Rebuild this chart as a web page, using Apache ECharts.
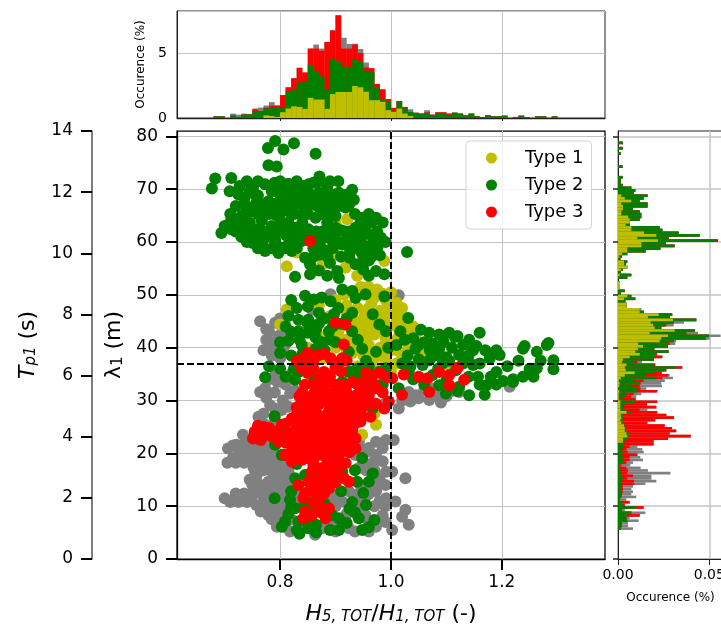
<!DOCTYPE html>
<html>
<head>
<meta charset="utf-8">
<script src="https://cdn.jsdelivr.net/npm/echarts@6/dist/echarts.min.js"></script>
<style>
html, body { margin: 0; padding: 0; background: #fff; }
#chart { width: 721px; height: 630px; }
</style>
</head>
<body>
<div id="chart"></div>
<script>
// ---------------- data ----------------
// scatter points [H5/H1, lambda1]
var otherPts = [[0.809,40.5],[0.803,39.2],[0.791,34.8],[0.821,35.1],[0.764,31.6],[0.773,32.3],[0.818,31.3],[0.827,31.9],[0.782,29.1],[0.803,28.2],[0.815,28.8],[0.761,26.9],[0.773,25.4],[0.791,26.0],[0.733,23.5],[0.739,22.5],[0.721,21.6],[0.706,20.9],[0.715,19.1],[0.736,20.3],[0.739,18.7],[0.757,20.6],[0.770,19.1],[0.785,20.0],[0.754,21.6],[0.779,22.2],[0.752,17.3],[0.780,17.5],[0.800,18.5],[0.770,16.8],[0.745,15.0],[0.757,15.6],[0.764,13.4],[0.779,14.6],[0.794,15.3],[0.809,15.6],[0.791,13.4],[0.803,12.8],[0.700,11.5],[0.718,11.4],[0.733,11.6],[0.748,11.4],[0.770,12.1],[0.785,11.2],[0.757,10.2],[0.765,9.0],[0.790,10.2],[0.810,10.8],[0.779,8.3],[0.797,9.0],[0.794,6.1],[0.818,5.2],[0.863,4.6],[0.876,5.8],[0.888,6.5],[0.924,5.8],[0.973,6.1],[0.985,8.3],[0.954,8.3],[0.894,11.5],[0.912,10.9],[0.924,12.8],[0.939,11.5],[0.954,11.8],[0.973,12.8],[0.991,11.5],[0.979,10.9],[0.850,12.0],[0.865,13.0],[0.942,17.2],[0.960,17.8],[0.973,19.7],[0.991,16.5],[0.979,15.3],[0.942,22.2],[0.973,22.2],[0.991,22.5],[0.936,19.7],[0.957,20.3],[0.764,45.0],[0.780,43.1],[0.791,44.7],[0.797,42.2],[0.785,41.0],[0.805,43.5],[0.770,39.5],[0.800,38.0],[0.891,50.1],[0.857,47.2],[1.014,49.9],[1.014,28.5],[1.032,31.6],[1.050,30.4],[1.069,30.1],[1.081,31.0],[1.100,30.8],[1.123,31.6],[1.214,32.6],[1.005,22.5],[1.002,16.5],[1.026,15.3],[1.008,10.9],[1.026,9.3],[1.020,8.0],[1.032,6.5],[1.002,5.5],[1.045,31.0],[1.060,32.0],[1.020,30.0],[0.990,29.5],[0.960,31.5],[0.980,33.0],
  [0.715,21.5],[0.730,21.5],[0.745,21.5],[0.760,21.5],[0.775,21.5],[0.790,21.5],[0.725,19.8],[0.745,19.8],[0.760,19.8],[0.775,19.8],[0.790,19.8],[0.805,19.8],[0.705,18.2],[0.720,18.2],[0.735,18.2],[0.750,18.2],[0.765,18.2],[0.780,18.2],[0.795,18.2],[0.810,18.2],[0.755,16.5],[0.785,16.5],[0.800,16.5],[0.815,16.5],[0.750,14.0],[0.765,14.0],[0.780,14.0],[0.795,14.0],[0.810,14.0],[0.825,14.0],[0.720,12.4],[0.735,12.4],[0.750,12.4],[0.765,12.4],[0.780,12.4],[0.795,12.4],[0.810,12.4],[0.825,12.4],[0.710,10.8],[0.725,10.8],[0.740,10.8],[0.770,10.8],[0.800,10.8],[0.815,10.8],[0.830,10.8],[0.780,9.3],[0.800,9.3],[0.815,9.3],[0.785,7.5],[0.800,7.5],[0.820,7.5],[0.810,6.0],[0.835,6.0],
  [0.945,21.0],[0.960,21.0],[0.985,21.0],[0.950,18.5],[0.970,18.5],[0.985,18.5],[0.955,16.8],[0.970,16.8],[0.945,14.0],[0.960,14.0],[0.975,14.0],[0.990,14.0],[0.905,12.3],[0.940,12.3],[0.960,12.3],[0.900,10.0],[0.925,10.0],[0.940,10.0],[0.970,10.0],[0.990,10.0],[0.920,8.5],[0.940,8.5],[0.895,7.0],[0.915,7.0],[0.960,7.0],[0.990,7.0],[0.900,5.2],[0.935,5.2],[0.960,5.2],
  [0.775,30.5],[0.790,31.5],[0.805,30.0],[0.790,28.5],[0.770,27.5],[0.810,33.0],[0.795,33.5],[0.780,34.0],[0.775,41.5],[0.790,40.0],[0.775,43.5],[0.800,45.5],[0.785,38.5],[0.810,41.8],[1.035,29.8],[1.090,29.6],[1.110,31.8],[1.075,32.2]];

var type1Pts = [[0.888,68.3],[0.921,64.3],[0.761,64.0],[0.812,55.4],[0.988,56.4],[0.876,55.7],[0.900,57.6],[0.918,55.1],[0.939,53.6],[0.954,51.3],[0.940,62.5],[0.910,60.5],[0.870,61.5],[0.850,66.0],[0.970,59.0],[0.800,67.5],[0.830,58.0],[0.960,60.8],[0.900,63.5],
  [0.93,50.5],[0.95,50.0],[0.97,49.5],[0.99,49.0],[1.01,48.5],[0.92,48.0],[0.94,47.5],[0.96,47.5],[0.98,47.0],[1.00,46.5],[1.02,46.0],[0.93,46.0],[0.95,45.5],[0.97,45.0],[0.99,44.5],[1.01,44.0],[1.03,43.5],[0.91,44.0],[0.93,43.5],[0.95,43.0],[0.97,42.5],[0.99,42.0],[1.01,41.5],[1.03,41.0],[0.92,41.5],[0.94,41.0],[0.96,40.5],[0.98,40.0],[1.00,39.5],[1.02,39.0],[0.90,40.0],[0.93,39.0],[0.95,38.5],[0.97,38.0],[0.99,37.5],[1.01,37.0],[0.88,42.0],[0.86,44.0],[0.89,46.0],[0.87,48.0],[0.90,49.0],[0.96,51.5],[1.00,50.5],[1.04,42.5],[1.05,40.5],[1.06,39.0],[0.94,36.5],[0.97,36.0],[1.00,35.5],[0.91,37.5],[0.85,40.0],[0.83,42.0],[0.88,38.0],[0.996,36.7],[1.011,39.5],[1.032,40.5],[1.105,36.7],[0.812,47.2],[0.800,44.4],[0.973,25.4],[0.948,23.5],[0.97,27.5],[0.99,38.5],[1.015,42.5],[0.985,45.5],[1.005,47.5],[0.965,48.5],
  [0.915,50.0],[0.945,51.5],[0.975,51.0],[0.985,50.2],[1.020,47.5],[1.025,44.8],[1.040,44.0],[1.045,41.5],[0.905,42.5],[0.920,39.5],[0.960,39.0],[0.980,38.5],[1.020,38.0],[0.960,44.0],[0.980,43.5],[0.940,44.5],[0.920,46.8],[0.955,46.5],[0.975,46.2],[0.995,47.8],[1.010,45.5],[0.990,40.8],[0.955,41.8],[0.935,40.2]];

var type2Pts = [[0.791,79.1],[0.778,77.8],[0.806,77.5],[0.825,78.7],[0.864,76.7],[0.779,74.5],[0.794,74.3],[0.871,72.4],[0.683,72.0],[0.677,70.1],[0.712,72.1],[0.727,70.6],[0.709,69.6],[0.736,68.3],[0.751,70.2],[0.773,70.9],[0.785,69.6],[0.803,69.9],[0.824,70.2],[0.842,70.6],[0.851,70.9],[0.870,69.3],[0.906,69.3],[0.930,69.9],[0.933,68.0],[0.912,68.3],[0.888,67.7],[0.757,67.4],[0.779,67.7],[0.803,68.0],[0.827,68.3],[0.851,67.4],[0.870,66.5],[0.906,66.8],[0.918,66.5],[0.900,64.9],[0.948,64.6],[0.973,64.6],[0.730,64.9],[0.748,65.8],[0.767,64.0],[0.791,65.2],[0.815,65.8],[0.839,65.2],[0.864,64.6],[0.882,65.2],[0.733,63.3],[0.694,61.7],[0.712,62.4],[0.736,62.0],[0.761,62.4],[0.785,63.0],[0.803,62.0],[0.827,62.7],[0.851,62.4],[0.876,62.0],[0.900,62.7],[0.918,62.0],[0.936,62.7],[0.957,61.7],[0.982,60.8],[0.751,59.8],[0.767,59.5],[0.791,60.2],[0.815,59.5],[0.839,60.2],[0.870,59.5],[0.894,60.2],[0.912,59.5],[0.936,60.2],[0.960,59.2],[0.976,59.2],[0.773,58.3],[0.797,57.9],[0.821,58.3],[0.845,57.0],[0.870,57.6],[0.924,57.6],[0.854,55.8],[0.936,55.8],[0.954,56.4],[0.854,53.9],[0.827,53.4],[0.885,53.6],[0.903,54.5],[0.906,53.2],[0.960,53.6],[0.973,54.5],[0.988,53.9],
  [0.745,69.5],[0.760,68.8],[0.790,71.2],[0.815,71.0],[0.840,69.0],[0.860,71.2],[0.885,70.5],[0.905,71.5],[0.895,67.0],[0.870,68.2],[0.845,66.0],[0.820,66.5],[0.795,66.8],[0.775,66.0],[0.745,66.5],[0.720,66.8],[0.730,61.0],[0.755,61.0],[0.780,61.2],[0.810,61.3],[0.835,61.0],[0.860,60.7],[0.885,61.0],[0.910,62.2],[0.930,61.5],[0.950,62.8],[0.965,61.2],[0.990,60.0],[0.945,58.3],[0.925,59.0],[0.880,58.5],[0.860,58.8],[0.800,59.0],[0.740,60.0],[0.700,63.0],[0.720,64.0],[0.925,57.0],[0.960,56.5],[0.980,57.5],[0.890,56.0],[0.870,54.6],[0.950,54.8],
  [0.740,71.5],[0.760,71.5],[0.800,71.5],[0.830,71.5],[0.870,71.5],[0.890,71.5],[0.725,69.0],[0.755,69.0],[0.800,69.0],[0.820,69.0],[0.855,69.0],[0.880,69.0],[0.895,69.0],[0.920,69.0],[0.735,67.2],[0.765,67.2],[0.790,67.2],[0.810,67.2],[0.835,67.2],[0.860,67.2],[0.880,67.2],[0.900,67.2],[0.925,67.2],[0.710,65.3],[0.735,65.3],[0.760,65.3],[0.780,65.3],[0.800,65.3],[0.825,65.3],[0.850,65.3],[0.875,65.3],[0.890,65.3],[0.935,65.3],[0.960,65.3],[0.710,63.7],[0.745,63.7],[0.800,63.7],[0.815,63.7],[0.840,63.7],[0.885,63.7],[0.945,63.7],[0.965,63.7],[0.985,63.7],[0.720,62.0],[0.745,62.0],[0.770,62.0],[0.795,62.0],[0.815,62.0],[0.840,62.0],[0.865,62.0],[0.890,62.0],[0.925,62.0],[0.945,62.0],[0.975,62.0],[0.745,60.5],[0.770,60.5],[0.790,60.5],[0.825,60.5],[0.850,60.5],[0.875,60.5],[0.900,60.5],[0.920,60.5],[0.945,60.5],[0.970,60.5],[0.760,58.8],[0.785,58.8],[0.810,58.8],[0.830,58.8],[0.895,58.8],[0.935,58.8],[0.955,58.8],[0.970,58.8],[0.860,57.2],[0.885,57.2],[0.910,57.2],[0.950,57.2],[0.965,57.2],
  [0.891,48.8],[0.912,51.0],[0.930,50.7],[0.936,49.4],[0.954,50.1],[0.988,49.7],[0.861,49.1],[0.870,46.6],[0.833,45.3],[0.851,45.3],[0.897,46.3],[0.930,46.6],[0.967,46.3],[0.815,41.3],[0.833,43.1],[0.864,41.9],[0.888,43.1],[0.930,43.1],[0.979,44.4],[0.991,43.1],[0.839,40.5],[0.864,39.8],[0.924,39.2],[0.948,39.8],[0.973,39.2],[0.924,35.4],[0.912,33.5],[0.900,32.9],[0.991,36.1],[0.773,34.4],[0.827,33.9],[0.839,29.8],[0.836,27.9],[0.967,28.5],[0.850,42.8],[0.870,44.5],[0.900,41.0],[0.910,44.5],[0.940,41.5],[0.955,37.5],[0.995,40.0],[0.820,38.5],[0.800,36.0],[0.850,36.5],[0.880,39.5],[0.900,36.5],[0.940,36.0],[0.965,34.5],[0.985,33.0],[0.810,44.0],[0.830,47.5],[0.850,47.8],[0.780,36.5],[0.815,46.0],
  [0.800,41.0],[0.820,43.0],[0.835,41.5],[0.850,44.5],[0.865,43.5],[0.880,45.5],[0.895,44.0],[0.890,41.5],[0.875,41.0],[0.840,38.8],[0.825,36.0],[0.810,34.5],[0.835,35.5],[0.860,34.5],[0.800,39.0],[0.905,47.5],[0.920,45.5],[0.875,49.5],[0.845,49.8],[0.820,49.0],[0.930,35.5],[0.960,36.5],[0.980,35.5],[0.945,34.5],
  [1.029,58.1],[1.031,45.6],[1.017,43.1],[1.054,43.4],[1.069,42.8],[1.087,42.5],[1.105,42.8],[1.120,42.2],[1.141,41.5],[1.160,42.8],[1.154,40.3],[1.241,40.3],[1.284,40.9],[1.044,39.8],[1.087,39.8],[1.123,38.6],[1.148,39.5],[1.178,38.0],[1.196,38.6],[1.238,39.8],[1.263,39.2],[1.281,40.5],[1.293,37.6],[1.293,35.9],[1.263,36.1],[1.238,34.5],[1.257,34.5],[1.220,33.5],[1.202,33.7],[1.190,35.4],[1.172,32.9],[1.169,31.1],[1.141,31.0],[1.157,34.5],[1.148,36.7],[1.117,35.7],[1.123,32.6],[1.099,31.3],[1.087,32.9],[1.075,34.8],[1.057,36.7],[1.032,35.4],[1.020,37.0],[1.014,32.3],[1.069,37.6],[1.093,37.0],[1.030,38.5],[1.050,40.5],[1.080,38.5],[1.110,40.0],[1.130,37.0],[1.190,39.5],[1.210,36.5],[1.230,37.5],[1.250,36.0],[1.270,37.5],[1.220,34.0],[1.180,34.5],[1.100,33.8],[1.060,33.0],[1.040,34.0],
  [1.010,40.5],[1.025,41.5],[1.040,41.8],[1.060,41.0],[1.075,40.8],[1.095,41.0],[1.115,42.0],[1.130,40.5],[1.070,39.5],[1.100,38.2],[1.035,36.5],[1.050,37.8],[1.085,36.0],[1.105,37.5],[1.140,38.5],[1.160,37.0],[1.170,39.5],[1.140,34.5],[1.160,33.0],[1.190,33.0],[1.120,31.8],
  [0.803,19.7],[0.791,21.6],[0.827,15.3],[0.845,15.9],[0.912,16.5],[0.967,16.2],[0.939,14.6],[0.960,14.6],[0.818,11.2],[0.827,9.6],[0.809,7.1],[0.803,6.1],[0.833,7.1],[0.851,5.8],[0.906,7.7],[0.906,5.5],[0.942,7.7],[0.948,5.5],[0.970,7.4],[0.894,8.3],[0.876,8.7],[0.906,19.7],[0.948,19.1],[0.790,11.5],[0.820,12.8],[0.835,4.8],[0.865,6.5],[0.925,9.5],[0.955,10.2],[0.800,24.0],[0.790,27.0],[0.880,10.5],[0.830,18.0],[0.850,9.0],[0.935,16.8],
  [0.815,8.5],[0.830,5.5],[0.850,7.0],[0.865,5.0],[0.890,5.5],[0.920,6.8],[0.935,8.8],[0.960,6.0],[0.950,12.5],[0.930,10.8],[0.910,12.8],[0.845,10.5],[0.820,9.8]];

var type3Pts = [[0.854,60.2],[0.900,44.7],[0.918,44.4],[0.915,40.6],
  [0.842,38.0],[0.870,38.6],[0.891,38.0],[0.912,38.0],[0.839,36.1],[0.879,35.4],[0.900,36.1],[0.830,37.5],[0.860,37.3],[0.905,37.2],[0.920,37.5],
  [0.967,34.8],[0.991,34.5],[0.864,32.3],[0.888,33.5],[0.918,32.3],[0.948,32.3],[0.973,32.3],[0.851,30.1],[0.876,30.4],[0.900,31.0],[0.924,30.4],[0.948,30.1],[0.973,29.4],[0.988,28.5],[0.963,26.9],[0.842,27.9],[0.864,28.5],[0.888,27.9],[0.912,28.2],[0.936,27.9],[0.821,26.6],[0.845,26.0],[0.870,25.4],[0.900,26.0],[0.924,25.7],[0.945,26.0],[0.803,25.4],[0.754,24.1],[0.773,23.5],[0.791,24.1],[0.815,23.8],[0.839,23.5],[0.864,23.1],[0.888,23.5],[0.912,23.1],[0.936,22.8],[0.751,22.8],[0.797,22.2],[0.821,21.6],[0.851,21.6],[0.876,21.6],[0.900,21.6],[0.924,22.2],[0.936,20.9],[0.809,19.7],[0.827,19.1],[0.851,19.1],[0.876,19.7],[0.894,18.4],[0.821,18.4],[0.918,18.1],[0.857,16.5],[0.876,17.2],[0.851,14.6],[0.870,14.0],[0.888,13.4],[0.833,14.0],[0.915,15.3],[0.924,14.6],[0.842,11.5],[0.870,10.2],[0.888,9.6],[0.857,8.3],[0.842,7.7],[0.882,7.7],[0.860,10.9],
  [0.84,31.5],[0.86,31.2],[0.88,31.8],[0.90,32.2],[0.92,31.5],[0.94,31.2],[0.96,31.0],[0.85,29.0],[0.87,29.3],[0.89,29.0],[0.91,29.5],[0.93,29.0],[0.95,28.8],[0.83,28.7],[0.855,26.8],[0.875,27.0],[0.895,26.5],[0.915,27.0],[0.935,26.5],[0.83,25.0],[0.85,24.8],[0.87,24.5],[0.89,24.8],[0.91,24.5],[0.93,24.3],[0.82,22.5],[0.84,22.3],[0.86,22.0],[0.88,22.3],[0.90,22.7],[0.92,23.5],[0.835,20.5],[0.855,20.3],[0.875,20.5],[0.895,20.2],[0.915,20.5],[0.86,17.8],[0.88,16.5],[0.865,15.5],[0.885,15.5],[0.855,13.0],[0.875,12.0],[0.90,14.5],[0.905,16.5],[0.87,34.0],[0.89,34.5],[0.91,35.5],[0.93,33.5],[0.95,33.5],[0.97,33.0],[0.985,31.5],[0.86,36.0],[0.80,23.0],[0.78,24.8],[0.765,22.5],[0.76,25.2],
  [0.850,35.2],[0.880,35.2],[0.955,35.2],[0.980,35.2],[0.845,33.0],[0.860,33.0],[0.875,33.0],[0.900,33.0],[0.915,33.0],[0.940,33.0],[0.960,33.0],[0.835,30.8],[0.865,30.8],[0.885,30.8],[0.910,30.8],[0.935,30.8],[0.840,29.2],[0.865,29.2],[0.900,29.2],[0.920,29.2],[0.940,29.2],[0.965,29.2],[0.830,27.3],[0.850,27.3],[0.865,27.3],[0.900,27.3],[0.925,27.3],[0.945,27.3],[0.810,25.6],[0.835,25.6],[0.860,25.6],[0.880,25.6],[0.915,25.6],[0.935,25.6],[0.825,24.0],[0.855,24.0],[0.875,24.0],[0.900,24.0],[0.920,24.0],[0.810,22.0],[0.830,22.0],[0.850,22.0],[0.870,22.0],[0.890,22.0],[0.910,22.0],[0.820,20.2],[0.845,20.2],[0.865,20.2],[0.885,20.2],[0.905,20.2],[0.925,20.2],[0.840,18.8],[0.860,18.8],[0.885,18.8],[0.905,18.8],[0.865,17.0],[0.890,17.0],[0.900,17.0],[0.860,15.0],[0.875,15.0],[0.895,15.0],[0.845,12.5],[0.865,12.5],[0.880,12.5],[0.845,9.0],[0.865,9.0],[0.875,9.0],[0.770,25.0],[0.785,23.2],[0.765,24.0],[0.850,39.0],[0.880,38.8],
  [1.023,34.9],[1.050,34.5],[1.066,34.2],[1.087,35.4],[1.105,34.8],[1.120,36.2],[1.132,33.9],[1.105,32.9],[1.069,31.6],[1.020,31.1],[1.002,34.2],[0.996,29.8]];

// threshold lines
var ratioLimit = 1.0;
var lambdaLimit = 37;

// top histogram: bins of 0.01 starting at 0.68, cumulative stack tops (%)
var topFirstBin = 0.68, topBinWidth = 0.01;
var topTopType1 = [0,0,0,0,0,0,0,0,0,.20, .15,.08,.44,.73,.90,.85,.70,1.55,1.42,1.42, .70,1.84,2.00,2.00,2.00,2.46,2.36,2.02,1.37,1.37, 1.24,.60,.47,.73,.34,.15,0,0,0,0, 0,0,0,0,0,0,0,0,0,0, 0,0,0,0,0,0,0,0,0,0, 0,0];
var topTopType2 = [.13,.13,0,.20,.08,.26,.28,.52,.47,.73, .80,.80,.80,2.02,2.15,2.72,2.80,4.09,3.63,3.19, 2.20,4.56,4.40,3.96,3.89,4.53,4.30,3.63,3.52,2.33, 1.42,1.24,.47,1.30,.73,.47,.34,.34,.34,.15, .34,.34,.21,.41,.34,.13,.34,.13,.08,.21, .13,.13,.18,0,.08,.18,.08,0,.13,.13, 0,.13];
var topTopType3 = [.13,.13,0,.20,.08,.26,.28,.67,.54,.80, .96,.96,1.76,2.36,3.06,3.86,3.50,5.34,5.34,5.18, 5.85,6.74,7.90,5.34,5.34,5.65,5.00,3.89,3.83,2.62, 2.20,1.45,.78,1.30,.85,.47,.41,.34,.44,.26, .44,.44,.34,.41,.34,.21,.34,.13,.08,.21, .13,.13,.18,0,.08,.18,.08,0,.13,.13, 0,.13];
var topTopAll   = [.13,.13,0,.34,.26,.34,.28,.73,.80,.96, 1.22,.96,1.76,2.36,3.06,3.86,3.50,5.34,5.65,5.34, 5.85,6.74,7.90,6.17,5.70,5.72,5.31,4.27,3.83,2.62, 2.20,1.45,.78,1.30,.85,.67,.41,.34,.60,.26, .44,.44,.34,.41,.34,.21,.34,.13,.08,.21, .13,.13,.18,0,.08,.18,.08,0,.13,.13, 0,.13];

// right histogram: bins of 0.5 m starting at 5.5 m, cumulative stack tops (%)
var rightFirstBin = 5.5, rightBinWidth = 0.5;
var rightTopType1 = [0,0,0,0,0,0,0,0,0,0, 0,0,0,0,0,0,0,0,0,0, 0,0,0,0,0,0,0,0,0,0,
  0,0,0,.0027,.0027,.0051,.0046,.0037,.0037,.0033, .0018,.0013,.0018,.0015,.0046,.0013,.0013,.0013,.0013,.0004,
  .0004,.0004,.0007,0,.0007,.0009,.0004,.0015,.0037,.0091, .0042,.0037,.0046,.0022,.0027,.0064,.0119,.0095,.0110,.0137,
  .0110,.0228,.0237,.0274,.0173,.0310,.0201,.0192,.0179,.0301, .0164,.0223,.0119,.0119,.0046,.0046,0,.0033,.0051,0,
  0,.0007,.0011,.0011,0,0,.0009,0,.0015,.0051, .0033,.0033,0,.0007,.0022,.0051,.0051,.0128,.0128,.0219,
  .0106,.0210,.0142,.0073,.0073,.0042,.0064,.0064,.0055,.0018, .0018,.0027,.0027,.0018,.0073,.0037,.0018,0,0,0,
  0,0,0,0,0,0,0,0,0,0, 0,0,0,0,0,0,0];
var rightTopType2 = [.0015,.0022,.0022,.0051,.0046,.0055,.0073,.0022,.0100,.0027, .0018,.0009,.0018,.0022,.0015,.0018,.0018,.0022,.0022,.0027,
  .0018,.0015,.0015,.0009,.0009,.0027,.0033,.0027,.0018,.0027, .0018,.0033,.0033,.0037,.0055,.0064,.0058,.0046,.0046,.0037,
  .0022,.0027,.0027,.0027,.0077,.0037,.0027,.0037,.0095,.0018, .0037,.0046,.0110,.0110,.0077,.0119,.0088,.0210,.0151,.0197,
  .0256,.0319,.0197,.0088,.0197,.0201,.0201,.0277,.0197,.0274, .0274,.0307,.0480,.0498,.0374,.0420,.0237,.0256,.0301,.0429,
  .0283,.0297,.0141,.0119,.0046,.0046,.0040,.0095,.0073,.0015, .0037,.0007,.0011,.0011,0,.0051,.0073,.0015,.0026,.0051,
  .0042,.0051,.0013,.0022,.0051,.0151,.0232,.0310,.0261,.0538, .0277,.0447,.0332,.0243,.0228,.0064,.0064,.0119,.0128,.0128,
  .0119,.0082,.0162,.0162,.0119,.0141,.0162,.0086,.0095,.0073, .0026,.0015,.0015,.0026,0,0,0,.0026,0,0,
  0,0,.0015,0,.0026,0,.0026];
var rightTopType3 = [.0015,.0022,.0022,.0051,.0046,.0119,.0073,.0022,.0141,.0037, .0064,.0009,.0018,.0022,.0027,.0027,.0027,.0088,.0088,.0051,
  .0082,.0051,.0055,.0046,.0018,.0046,.0064,.0064,.0106,.0055, .0046,.0064,.0195,.0195,.0274,.0398,.0283,.0319,.0296,.0256,
  .0161,.0204,.0307,.0265,.0215,.0119,.0210,.0159,.0215,.0097, .0073,.0086,.0215,.0124,.0119,.0124,.0141,.0243,.0274,.0237,
  .0265,.0352,.0204,.0106,.0197,.0243,.0214,.0277,.0197,.0274, .0283,.0307,.0480,.0498,.0374,.0420,.0237,.0265,.0307,.0429,
  .0283,.0297,.0141,.0119,.0046,.0046,.0040,.0095,.0073,.0015, .0037,.0007,.0011,.0011,0,.0051,.0073,.0015,.0026,.0051,
  .0042,.0051,.0013,.0022,.0051,.0151,.0232,.0310,.0261,.0548, .0277,.0447,.0332,.0243,.0228,.0064,.0064,.0119,.0128,.0128,
  .0119,.0082,.0162,.0162,.0119,.0141,.0162,.0086,.0095,.0073, .0026,.0015,.0015,.0026,0,0,0,.0026,0,0,
  0,0,.0015,0,.0026,0,.0026];
var rightTopAll = [.0082,.0055,.0055,.0113,.0064,.0119,.0150,.0037,.0141,.0037, .0064,.0046,.0100,.0073,.0082,.0073,.0082,.0150,.0210,.0183,
  .0183,.0287,.0164,.0124,.0068,.0082,.0137,.0122,.0106,.0141, .0133,.0106,.0195,.0195,.0274,.0398,.0283,.0319,.0296,.0256,
  .0161,.0204,.0307,.0265,.0215,.0161,.0210,.0159,.0215,.0097, .0100,.0128,.0215,.0155,.0241,.0237,.0256,.0301,.0283,.0241,
  .0265,.0352,.0204,.0131,.0197,.0243,.0214,.0277,.0204,.0274, .0314,.0319,.0502,.0562,.0438,.0420,.0237,.0305,.0361,.0429,
  .0283,.0297,.0141,.0128,.0046,.0046,.0040,.0095,.0073,.0015, .0037,.0007,.0011,.0011,0,.0051,.0073,.0015,.0026,.0051,
  .0042,.0051,.0013,.0022,.0051,.0151,.0232,.0310,.0261,.0548, .0277,.0447,.0332,.0243,.0228,.0064,.0064,.0119,.0128,.0128,
  .0119,.0082,.0162,.0162,.0119,.0141,.0162,.0086,.0095,.0073, .0026,.0015,.0015,.0026,0,0,0,.0026,0,0,
  0,0,.0015,0,.0026,0,.0026];

// tick labels
var ratioTicks = [0.8, 1.0, 1.2];
var lambdaTicks = [0, 10, 20, 30, 40, 50, 60, 70, 80];
var occTicksTop = [0, 5];
var occTicksRight = [0, 0.05];

// ---------------- styles ----------------
var font = 'DejaVu Sans';
var colOther = '#808080', col1 = '#bfbf00', col2 = '#008000', col3 = '#ff0000';
var gridColor = '#c4c4c4';
var xMin = 0.614, xMax = 1.386, yMax = 81;

var rightBinCount = Math.round(yMax / rightBinWidth);
var rightCats = [];
for (var i = 0; i < rightBinCount; i++) rightCats.push((i * rightBinWidth).toFixed(1));

function padRight(arr) {
    var out = [];
    for (var i = 0; i < rightBinCount; i++) out.push(0);
    var off = Math.round(rightFirstBin / rightBinWidth);
    for (var j = 0; j < arr.length; j++) out[off + j] = arr[j];
    return out;
}
function topData(arr) {
    return arr.map(function (v, i) { return [topFirstBin + (i + 0.5) * topBinWidth, v]; });
}
function scatter(name, pts, color) {
    return {type: 'scatter', name: name, xAxisIndex: 0, yAxisIndex: 0, data: pts,
        symbolSize: 12, itemStyle: {color: color, opacity: 1}, silent: true};
}
function topBar(name, arr, color) {
    return {type: 'bar', name: name, xAxisIndex: 1, yAxisIndex: 2, data: topData(arr),
        barWidth: 5.7, barGap: '-100%', itemStyle: {color: color}, silent: true};
}
function rightBar(name, arr, color) {
    return {type: 'bar', name: name, xAxisIndex: 2, yAxisIndex: 3, data: padRight(arr),
        barWidth: '100%', barGap: '-100%', barCategoryGap: 0, itemStyle: {color: color}, silent: true};
}

var option = {
    animation: false,
    backgroundColor: '#fff',
    textStyle: {fontFamily: font},
    grid: [
        {left: 177, top: 131, width: 428, height: 428, containLabel: false, outerBoundsMode: 'none', show: true, borderColor: '#000', borderWidth: 1.25, backgroundColor: 'transparent'},
        {left: 177, top: 11, width: 428, height: 107, containLabel: false, outerBoundsMode: 'none', show: true, borderColor: '#222', borderWidth: 1, backgroundColor: 'transparent'},
        {left: 618, top: 131, width: 105, height: 428, containLabel: false, outerBoundsMode: 'none', show: true, borderColor: '#222', borderWidth: 1, backgroundColor: 'transparent'}
    ],
    legend: {
        data: ['Type 1', 'Type 2', 'Type 3'],
        orient: 'vertical', left: 466, top: 141,
        icon: 'circle', itemWidth: 11, itemHeight: 11, itemGap: 7,
        padding: [7, 8, 7, 20],
        backgroundColor: 'rgba(255,255,255,0.8)', borderColor: '#d4d4d4', borderWidth: 1, borderRadius: 4,
        textStyle: {fontFamily: font, fontSize: 18, color: '#000', lineHeight: 20, padding: [0, 0, 0, 23]}
    },
    xAxis: [
        {gridIndex: 0, type: 'value', min: xMin, max: xMax, splitNumber: 5,
            axisLine: {lineStyle: {color: '#000', width: 1.25}},
            axisTick: {customValues: ratioTicks, length: 11, lineStyle: {color: '#000', width: 2}},
            axisLabel: {customValues: ratioTicks, margin: 15, formatter: function (v) { return v.toFixed(1); }, fontFamily: font, fontSize: 17, color: '#000'},
            splitLine: {show: true, lineStyle: {color: gridColor, width: 1}},
            name: '{i|H}{s|5, TOT}{n|/}{i|H}{s|1, TOT}{n| (-)}', nameLocation: 'middle', nameGap: 38,
            nameTextStyle: {rich: {
                i: {fontFamily: font, fontSize: 22, fontStyle: 'italic', color: '#000', lineHeight: 28, verticalAlign: 'bottom'},
                s: {fontFamily: font, fontSize: 15, fontStyle: 'italic', color: '#000', lineHeight: 16, verticalAlign: 'bottom'},
                n: {fontFamily: font, fontSize: 22, color: '#000', lineHeight: 28, verticalAlign: 'bottom'}
            }}
        },
        {gridIndex: 1, type: 'value', min: xMin, max: xMax, splitNumber: 5,
            axisLine: {lineStyle: {color: '#222', width: 1.25}},
            axisTick: {customValues: ratioTicks, length: 3, lineStyle: {color: '#222'}},
            axisLabel: {show: false},
            splitLine: {show: true, lineStyle: {color: gridColor, width: 1}}
        },
        {gridIndex: 2, type: 'value', min: 0, max: 0.0575, splitNumber: 1,
            axisLine: {lineStyle: {color: '#222', width: 1}},
            axisTick: {customValues: occTicksRight, length: 6, lineStyle: {color: '#222'}},
            axisLabel: {customValues: occTicksRight, margin: 9, formatter: function (v) { return v.toFixed(2); }, fontFamily: font, fontSize: 14, color: '#000'},
            splitLine: {show: true, lineStyle: {color: gridColor, width: 1.5}},
            name: 'Occurence (%)', nameLocation: 'middle', nameGap: 33,
            nameTextStyle: {fontFamily: font, fontSize: 12, color: '#000'}
        }
    ],
    yAxis: [
        {gridIndex: 0, type: 'value', min: 0, max: yMax, splitNumber: 8,
            axisLine: {lineStyle: {color: '#000', width: 1.25}},
            axisTick: {customValues: lambdaTicks, length: 11, lineStyle: {color: '#000', width: 2}},
            axisLabel: {customValues: lambdaTicks, margin: 19, fontFamily: font, fontSize: 17, color: '#000'},
            splitLine: {show: true, lineStyle: {color: gridColor, width: 1}},
            name: '{n|λ}{s|1}{n| (m)}', nameLocation: 'middle', nameGap: 46,
            nameTextStyle: {rich: {
                n: {fontFamily: font, fontSize: 22, color: '#000', lineHeight: 28, verticalAlign: 'bottom'},
                s: {fontFamily: font, fontSize: 15, color: '#000', lineHeight: 16, verticalAlign: 'bottom'}
            }}
        },
        {gridIndex: 0, type: 'value', min: 0, max: 14, interval: 2, position: 'left', offset: 85,
            axisLine: {show: true, lineStyle: {color: '#555', width: 1.5}},
            axisTick: {show: true, length: 11, lineStyle: {color: '#000', width: 2}},
            axisLabel: {margin: 19, fontFamily: font, fontSize: 17, color: '#000'},
            splitLine: {show: false},
            name: '{i|T}{s|p1}{n| (s)}', nameLocation: 'middle', nameGap: 53,
            nameTextStyle: {rich: {
                i: {fontFamily: font, fontSize: 22, fontStyle: 'italic', color: '#000', lineHeight: 28, verticalAlign: 'bottom'},
                s: {fontFamily: font, fontSize: 15, fontStyle: 'italic', color: '#000', lineHeight: 16, verticalAlign: 'bottom'},
                n: {fontFamily: font, fontSize: 22, color: '#000', lineHeight: 28, verticalAlign: 'bottom'}
            }}
        },
        {gridIndex: 1, type: 'value', min: 0, max: 8.23, interval: 5,
            axisLine: {lineStyle: {color: '#222', width: 1}},
            axisTick: {show: false},
            axisLabel: {customValues: occTicksTop, margin: 10, fontFamily: font, fontSize: 14, color: '#000'},
            splitLine: {show: true, lineStyle: {color: gridColor, width: 1}},
            name: 'Occurence (%)', nameLocation: 'middle', nameGap: 27,
            nameTextStyle: {fontFamily: font, fontSize: 12, color: '#000'}
        },
        {gridIndex: 2, type: 'category', data: rightCats, show: false, boundaryGap: true},
        {gridIndex: 2, type: 'value', min: 0, max: yMax, splitNumber: 8, position: 'left',
            axisLine: {show: true, lineStyle: {color: '#222', width: 1}},
            axisTick: {show: true, customValues: lambdaTicks, length: 5, lineStyle: {color: '#222', width: 1.5}},
            axisLabel: {show: false},
            splitLine: {show: true, lineStyle: {color: gridColor, width: 1.5}}
        }
    ],
    series: [
        scatter('Other', otherPts, colOther),
        scatter('Type 1', type1Pts, col1),
        scatter('Type 2', type2Pts, col2),
        scatter('Type 3', type3Pts, col3),
        {type: 'scatter', name: 'limits', xAxisIndex: 0, yAxisIndex: 0, data: [], z: 10, silent: true,
            markLine: {silent: true, symbol: 'none', label: {show: false}, animation: false,
                lineStyle: {color: '#000', type: [7, 3], width: 2},
                data: [{xAxis: ratioLimit}, {yAxis: lambdaLimit}]}
        },
        topBar('top all', topTopAll, colOther),
        topBar('top type 3', topTopType3, col3),
        topBar('top type 2', topTopType2, col2),
        topBar('top type 1', topTopType1, col1),
        rightBar('right all', rightTopAll, colOther),
        rightBar('right type 3', rightTopType3, col3),
        rightBar('right type 2', rightTopType2, col2),
        rightBar('right type 1', rightTopType1, col1)
    ]
};

var chart = echarts.init(document.getElementById('chart'), null, {renderer: 'canvas'});
chart.setOption(option);
</script>
</body>
</html>
